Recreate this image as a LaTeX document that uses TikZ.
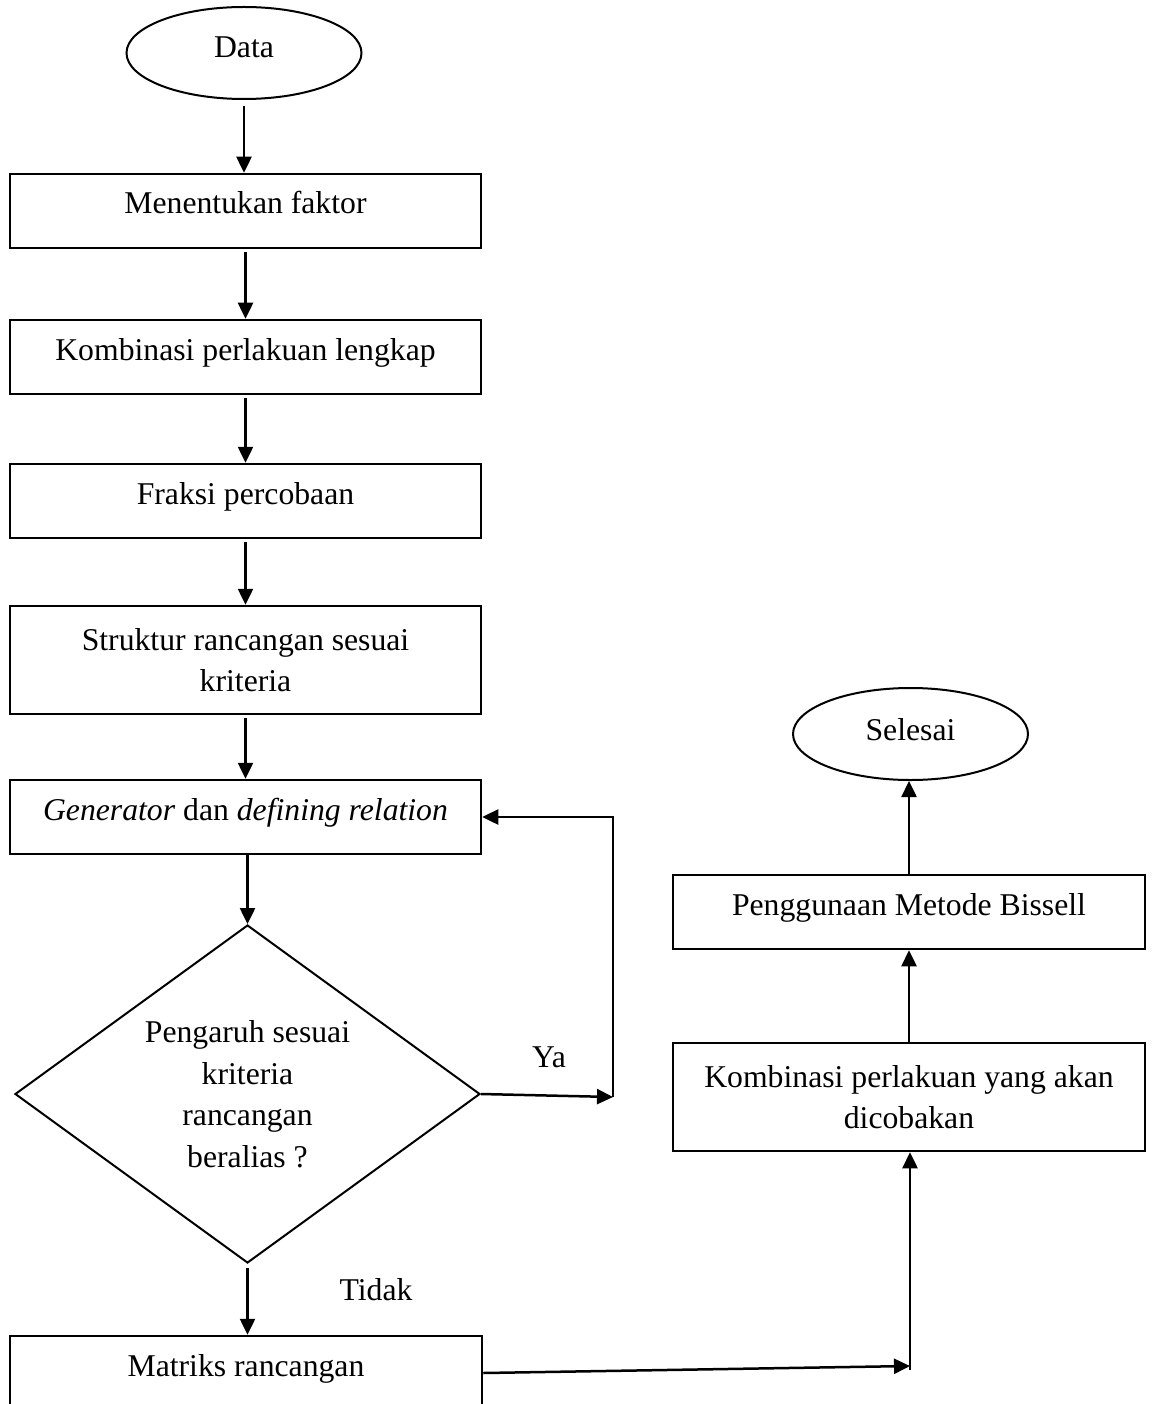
\documentclass[tikz,border=0pt]{standalone}
\usepackage{fontspec}
\setmainfont{Liberation Serif}
\usetikzlibrary{arrows.meta,shapes.geometric,calc}
\begin{document}
\begin{tikzpicture}[x=1pt,y=-1pt,
  every node/.style={font=\fontsize{31.7}{41.5}\selectfont},
  box/.style={draw, rectangle, line width=2.5pt, minimum width=471pt, minimum height=74pt, inner sep=0pt, text height=20pt, text depth=14pt, align=center},
  boxtwo/.style={draw, rectangle, line width=2.5pt, minimum width=471pt, minimum height=108pt, inner sep=0pt, align=center},
  term/.style={draw, ellipse, line width=2pt, minimum width=235pt, minimum height=92pt, inner sep=0pt},
  dec/.style={draw, diamond, line width=2pt, minimum width=465pt, minimum height=338pt, aspect=1.376, inner sep=0pt, align=center},
  arr/.style={line width=2.5pt, -{Triangle[length=16pt,width=15pt]}},
  lbl/.style={anchor=base, inner sep=0pt}
]
\useasboundingbox[fill=white] (0,0) rectangle (1152,1404);
\clip (0,0) rectangle (1152,1404);

% left column
\node[term, text height=20pt, text depth=10pt] (data) at (244,53) {Data};
\node[box] (m1) at (245.5,211) {Menentukan faktor};
\node[box] (m2) at (245.5,357) {Kombinasi perlakuan lengkap};
\node[box] (m3) at (245.5,501) {Fraksi percobaan};
\node[boxtwo] (m4) at (245.5,660) {Struktur rancangan sesuai\\kriteria};
\node[box] (m5) at (245.5,817) {\textit{Generator} dan \textit{defining relation}};
\node[dec] (dia) at (247.5,1094) {Pengaruh sesuai\\kriteria\\rancangan\\beralias ?};
\node[box, minimum width=472pt] (mat) at (246,1373) {Matriks rancangan};

% right column
\node[term, text height=22pt, text depth=10pt] (sel) at (910.5,734) {Selesai};
\node[box, minimum width=472pt] (peng) at (909,912) {Penggunaan Metode Bissell};
\node[boxtwo, minimum width=472pt] (k2) at (909,1097) {Kombinasi perlakuan yang akan\\dicobakan};

% labels
\node[lbl] (ya) at (549,1067) {Ya};
\node[lbl] (tidak) at (376,1300) {Tidak};

% connectors
\draw[arr, shorten <=6pt] (data.south) -- (data.south |- m1.north);
\draw[arr, shorten <=3pt] (m1) -- (m2);
\draw[arr, shorten <=3pt] (m2) -- (m3);
\draw[arr, shorten <=3pt] (m3) -- (m4);
\draw[arr, shorten <=3pt] (m4) -- (m5);
\draw[arr] (m5.south -| dia.north) -- (dia.north);
\draw[arr, shorten <=4pt] (dia.south) -- (dia.south |- mat.north);

\coordinate (yc) at (613,1097);
\draw[arr] (dia.east) -- (yc);
\draw[arr] (yc) -- (yc |- m5.east) -- (m5.east);

\coordinate (mk) at (910,1366);
\draw[arr] (mat.east) -- (mk);
\draw[arr] ($(mk)+(0,4)$) -- (mk |- k2.south);
\draw[arr] (k2.north) -- (k2.north |- peng.south);
\draw[arr] (peng.north) -- (peng.north |- sel.south);
\end{tikzpicture}
\end{document}
